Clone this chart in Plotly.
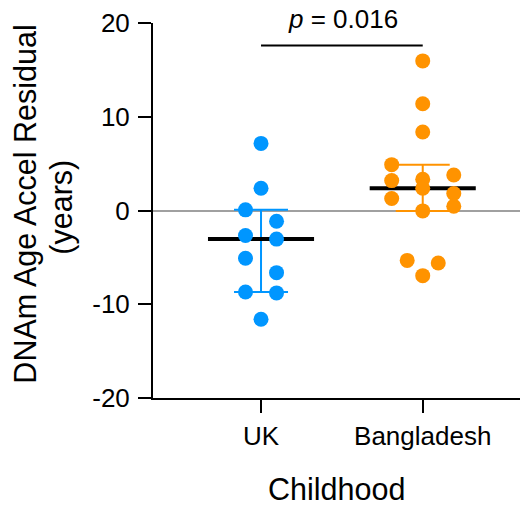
import plotly.graph_objects as go

# ---------------- data ----------------
categories = ["UK", "Bangladesh"]
uk_values = [7.16, 2.37, 0.07, -1.14, -2.66, -3.05, -5.10, -6.63, -8.69, -8.79, -11.60]
bangladesh_values = [15.96, 11.38, 8.37, 4.89, 3.33, 3.79, 3.19, 2.38, 1.81,
                     1.28, -0.04, 0.46, -5.32, -5.60, -6.95]
medians = [-3.05, 2.38]
q1_values = [-8.69, -0.04]
q3_values = [0.07, 4.89]
y_tick_values = [-20, -10, 0, 10, 20]
p_value = 0.016

# ---------------- style ----------------
colors = ["#0096FF", "#FF9300"]
FONT = "Liberation Sans, Arial, sans-serif"
BIN_HEIGHT = 1.6      # data units: points closer than this share a row
SWARM_STEP = 0.192    # category units between points in one row
MEDIAN_HALF = 0.328   # half-width of median line, category units
BRACKET_Y = 17.6


def swarm_offsets(vals, h, step):
    """Simple binned dot-plot layout: consecutive points within h share a row."""
    out = []
    i, n = 0, len(vals)
    while i < n:
        j = i
        while j + 1 < n and abs(vals[j + 1] - vals[i]) <= h:
            j += 1
        k = j - i + 1
        for m in range(k):
            out.append((m - (k - 1) / 2) * step)
        i = j + 1
    return out


groups = [uk_values, bangladesh_values]
fig = go.Figure()

for gi, vals in enumerate(groups):
    # IQR error bar centred on median
    fig.add_trace(go.Scatter(
        x=[gi], y=[medians[gi]], mode="markers",
        marker=dict(size=0.1, color=colors[gi], opacity=0),
        error_y=dict(type="data", symmetric=False,
                     array=[q3_values[gi] - medians[gi]],
                     arrayminus=[medians[gi] - q1_values[gi]],
                     color=colors[gi], thickness=2, width=27),
        showlegend=False, hoverinfo="skip"))
    # median line
    fig.add_trace(go.Scatter(
        x=[gi - MEDIAN_HALF, gi + MEDIAN_HALF], y=[medians[gi], medians[gi]],
        mode="lines", line=dict(color="black", width=4),
        showlegend=False, hoverinfo="skip"))

for gi, vals in enumerate(groups):
    offs = swarm_offsets(vals, BIN_HEIGHT, SWARM_STEP)
    fig.add_trace(go.Scatter(
        x=[gi + o for o in offs], y=vals, mode="markers",
        marker=dict(size=15, color=colors[gi], line=dict(width=0)),
        name=categories[gi], showlegend=False))

# significance bracket
fig.add_trace(go.Scatter(
    x=[0, 1], y=[BRACKET_Y, BRACKET_Y], mode="lines",
    line=dict(color="black", width=2), showlegend=False, hoverinfo="skip",
    cliponaxis=False))

fig.add_annotation(x=0.507, y=1.01, xref="paper", yref="paper",
                   text=f"<i>p</i> = {p_value:.3f}", showarrow=False,
                   font=dict(family=FONT, size=26, color="black"),
                   xanchor="center", yanchor="middle")

# axis titles
TITLE_SIZE = 30.5
fig.add_annotation(x=-0.339, y=0.518, xref="paper", yref="paper",
                   text="DNAm Age Accel Residual", textangle=-90,
                   showarrow=False, font=dict(family=FONT, size=TITLE_SIZE, color="black"),
                   xanchor="center", yanchor="middle")
fig.add_annotation(x=-0.245, y=0.508, xref="paper", yref="paper",
                   text="(years)", textangle=-90,
                   showarrow=False, font=dict(family=FONT, size=TITLE_SIZE, color="black"),
                   xanchor="center", yanchor="middle")
fig.add_annotation(x=0.489, y=-0.2425, xref="paper", yref="paper",
                   text="Childhood", showarrow=False,
                   font=dict(family=FONT, size=TITLE_SIZE, color="black"),
                   xanchor="center", yanchor="middle")

# page body has an 8px default margin -> figure is 8px smaller, margins shifted
fig.update_layout(
    width=520, height=498,
    margin=dict(l=145, r=0, t=15, b=108),
    paper_bgcolor="white", plot_bgcolor="white",
    font=dict(family=FONT, size=26, color="black"),
    xaxis=dict(range=[-0.668, 1.651], tickmode="array", tickvals=[0, 1],
               ticktext=categories, showline=True, linecolor="black",
               linewidth=2, ticks="outside", ticklen=13, tickwidth=2,
               tickcolor="black", showgrid=False, zeroline=False,
               ticklabelstandoff=1),
    yaxis=dict(range=[-20, 20], tickmode="array", tickvals=y_tick_values,
               ticktext=[str(v) for v in y_tick_values], showline=True,
               linecolor="black", linewidth=2, ticks="outside", ticklen=13,
               tickwidth=2, tickcolor="black", showgrid=False,
               zeroline=True, zerolinecolor="#A0A0A0", zerolinewidth=2,
               ticklabelstandoff=3),
)

fig.write_html("out.html")
